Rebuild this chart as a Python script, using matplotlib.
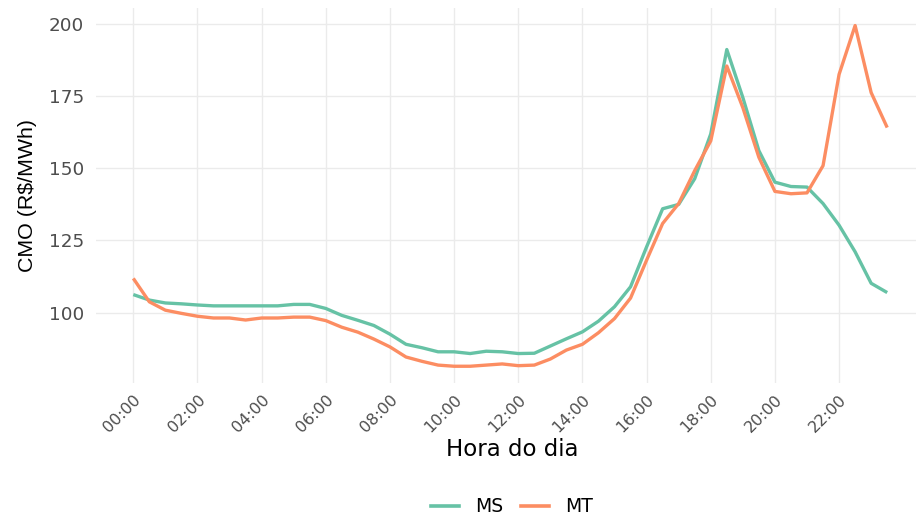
import matplotlib
matplotlib.use("Agg")
import matplotlib.pyplot as plt
from matplotlib.lines import Line2D

plt.rcParams['font.family'] = ['DejaVu Sans']

hours = [i * 0.5 for i in range(48)]
tick_hours = list(range(0, 24, 2))
tick_labels = [f"{h:02d}:00" for h in tick_hours]

ms = [106.2, 104.3, 103.3, 103.0, 102.6, 102.3, 102.3, 102.3, 102.3, 102.3,
      102.8, 102.8, 101.4, 99.0, 97.3, 95.5, 92.5, 89.0, 87.8, 86.4,
      86.4, 85.8, 86.6, 86.4, 85.8, 85.9, 88.4, 90.9, 93.3, 97.0,
      102.0, 108.9, 122.7, 135.9, 137.4, 146.3, 161.8, 191.0, 174.4, 156.0,
      145.1, 143.6, 143.4, 137.7, 130.2, 121.0, 110.1, 106.9]
mt = [111.8, 103.7, 100.8, 99.7, 98.7, 98.1, 98.1, 97.4, 98.1, 98.1,
      98.4, 98.4, 97.2, 94.9, 93.2, 90.8, 88.1, 84.6, 83.1, 81.8,
      81.4, 81.4, 81.8, 82.2, 81.6, 81.8, 83.9, 87.0, 89.0, 93.0,
      97.9, 105.0, 118.1, 130.8, 137.7, 149.1, 159.4, 185.3, 170.9, 153.7,
      141.9, 141.1, 141.4, 150.8, 182.4, 199.3, 176.1, 164.0]
series = {"MS": ms, "MT": mt}
colors = {"MS": "#66C2A5", "MT": "#FC8D62"}

W, H = 916, 520
fig = plt.figure(figsize=(W / 100, H / 100), dpi=100)
left, right, top, bottom = 95.6, 924.9, 8.5, 383.3
ax = fig.add_axes([left / W, 1 - bottom / H, (right - left) / W, (bottom - top) / H])

for name, vals in series.items():
    ax.plot(hours, vals, color=colors[name], lw=2.4, solid_capstyle='butt', label=name)

ax.set_xlim(-1.175, 24.675)
ax.set_ylim(75.5, 205.2)
ax.set_xticks(tick_hours)
ax.set_xticklabels(tick_labels, rotation=45, ha='right', rotation_mode='anchor')
ax.set_yticks([100, 125, 150, 175, 200])
ax.tick_params(axis='both', length=0, labelcolor='#4D4D4D')
ax.tick_params(axis='y', pad=8.5, labelsize=13.2)
ax.tick_params(axis='x', pad=6, labelsize=11.5)
ax.grid(True, color='#EBEBEB', lw=1.0)
ax.set_axisbelow(True)
for s in ax.spines.values():
    s.set_visible(False)

fig.text(28 / W, 1 - 196 / H, r"CMO (R\$/MWh)", rotation=90, ha='center', va='center',
         fontsize=15.4, color='black', family=['Liberation Sans', 'DejaVu Sans'])
fig.text(512 / W, 1 - 450 / H, "Hora do dia", ha='center', va='center', fontsize=16.5, color='black')

handles = [Line2D([], [], color=colors[n], lw=2.6) for n in series]
fig.legend(handles, list(series.keys()), loc='center', bbox_to_anchor=(512 / W, 1 - 507 / H),
           ncol=2, frameon=False, fontsize=13.5, handlelength=1.5, columnspacing=0.9,
           handletextpad=0.9)

fig.savefig("out.png", dpi=100)
